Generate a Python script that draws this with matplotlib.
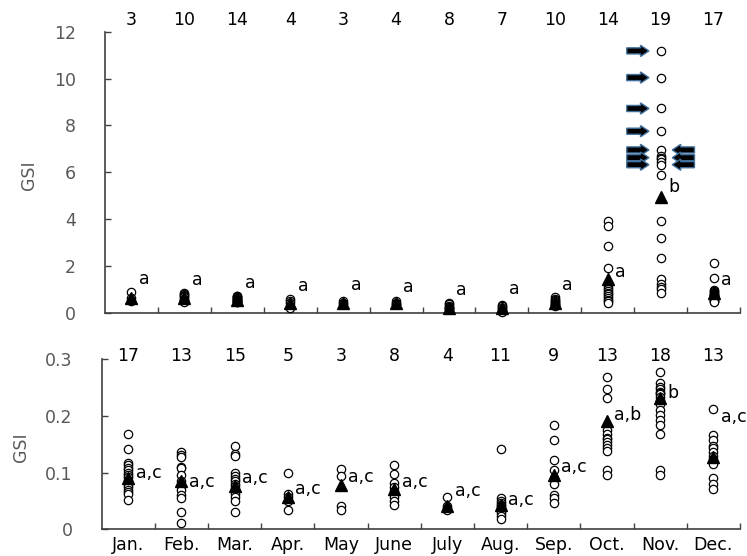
#!/usr/bin/env python3

from typing import List

import matplotlib
matplotlib.use('Agg')
import matplotlib.pyplot as plt
from matplotlib.patches import FancyArrow


MONTHS = ['Jan.', 'Feb.', 'Mar.', 'Apr.', 'May', 'June',
          'July', 'Aug.', 'Sep.', 'Oct.', 'Nov.', 'Dec.']

# upper panel: GSI of each fish, by month
top_counts = [3, 10, 14, 4, 3, 4, 8, 7, 10, 14, 19, 17]
top_values = [
    [0.87, 0.62, 0.52],
    [0.83, 0.8, 0.75, 0.7, 0.65, 0.6, 0.55, 0.52, 0.48, 0.46],
    [0.73, 0.7, 0.68, 0.65, 0.62, 0.6, 0.58, 0.56, 0.54, 0.52, 0.5, 0.48, 0.47, 0.46],
    [0.58, 0.5, 0.4, 0.22],
    [0.5, 0.42, 0.36],
    [0.48, 0.42, 0.38, 0.36],
    [0.43, 0.38, 0.3, 0.25, 0.2, 0.18, 0.15, 0.14],
    [0.34, 0.28, 0.22, 0.18, 0.12, 0.06, 0.01],
    [0.66, 0.6, 0.55, 0.5, 0.46, 0.42, 0.38, 0.35, 0.32, 0.29],
    [3.92, 3.7, 2.86, 1.92, 1.1, 1.0, 0.92, 0.85, 0.78, 0.7, 0.63, 0.55, 0.48, 0.4],
    [11.18, 10.04, 8.72, 7.75, 6.95, 6.7, 6.62, 6.55, 6.45, 6.32, 5.87,
     3.93, 3.2, 2.35, 1.43, 1.23, 1.1, 1.01, 0.83],
    [2.14, 1.5, 0.97, 0.92, 0.88, 0.84, 0.8, 0.77, 0.74, 0.7, 0.66, 0.62,
     0.58, 0.55, 0.52, 0.49, 0.47],
]
top_means = [0.62, 0.63, 0.55, 0.43, 0.42, 0.4, 0.22, 0.2, 0.42, 1.45, 4.96, 0.83]
top_letters = ['a'] * 10 + ['b', 'a']
top_letter_y = [1.43, 1.4, 1.28, 1.14, 1.18, 1.11, 0.97, 1.0, 1.18, 1.75, 5.36, 1.4]

# marked fish in November
arrows_right = [11.18, 10.04, 8.72, 7.75, 6.95, 6.62, 6.32]
arrows_left = [6.95, 6.62, 6.32]

# lower panel
low_counts = [17, 13, 15, 5, 3, 8, 4, 11, 9, 13, 18, 13]
low_values = [
    [0.169, 0.141, 0.117, 0.113, 0.109, 0.105, 0.1, 0.096, 0.092, 0.087,
     0.083, 0.079, 0.075, 0.07, 0.066, 0.062, 0.052],
    [0.137, 0.132, 0.127, 0.11, 0.108, 0.096, 0.085, 0.077, 0.07, 0.06,
     0.055, 0.031, 0.011],
    [0.148, 0.133, 0.129, 0.1, 0.094, 0.089, 0.085, 0.08, 0.076, 0.072,
     0.067, 0.062, 0.057, 0.05, 0.031],
    [0.1, 0.062, 0.058, 0.05, 0.034],
    [0.107, 0.095, 0.042, 0.034],
    [0.114, 0.098, 0.082, 0.075, 0.068, 0.057, 0.05, 0.043],
    [0.058, 0.042, 0.038, 0.034],
    [0.142, 0.055, 0.05, 0.047, 0.044, 0.041, 0.037, 0.033, 0.029, 0.024, 0.019],
    [0.184, 0.157, 0.122, 0.104, 0.09, 0.081, 0.06, 0.055, 0.046],
    [0.269, 0.248, 0.232, 0.175, 0.168, 0.161, 0.16, 0.155, 0.149, 0.143,
     0.138, 0.105, 0.096],
    [0.278, 0.258, 0.252, 0.247, 0.243, 0.24, 0.238, 0.234, 0.228, 0.226,
     0.222, 0.21, 0.202, 0.193, 0.184, 0.168, 0.105, 0.096],
    [0.212, 0.166, 0.157, 0.147, 0.143, 0.136, 0.13, 0.124, 0.12, 0.115,
     0.09, 0.081, 0.072],
]
low_means = [0.09, 0.085, 0.077, 0.058, 0.078, 0.072, 0.041, 0.043, 0.096,
             0.191, 0.231, 0.128]
low_letters = ['a,c'] * 9 + ['a,b', 'b', 'a,c']
low_letter_y = [0.099, 0.084, 0.09, 0.071, 0.093, 0.084, 0.067, 0.052, 0.11,
                0.202, 0.24, 0.199]


GREY = '#595959'
AXIS = '#404040'
FS = 12.5


def style_axes(ax, ymax: float, yticks: List[float], ylabels: List[str],
               label_pos, show_months: bool):
    n = len(MONTHS)
    ax.set_xlim(0, n)
    ax.set_ylim(0, ymax)

    for side in ('top', 'right'):
        ax.spines[side].set_visible(False)
    for side in ('left', 'bottom'):
        ax.spines[side].set_color(AXIS)
        ax.spines[side].set_linewidth(1.2)

    ax.set_yticks(yticks)
    ax.set_yticklabels(ylabels)
    ax.tick_params(axis='y', direction='in', length=4, width=1, color=AXIS,
                   pad=21, labelsize=FS, labelcolor=GREY)

    ax.set_xticks(range(1, n + 1))
    ax.set_xticklabels([])
    ax.tick_params(axis='x', which='major', direction='in', length=4,
                   width=1, color=AXIS)

    ax.set_xticks([i + 0.5 for i in range(n)], minor=True)
    ax.set_xticklabels(MONTHS if show_months else [''] * n, minor=True)
    ax.tick_params(axis='x', which='minor', length=0, pad=5,
                   labelsize=FS, labelcolor='black')

    ax.set_ylabel('GSI', color=GREY, fontsize=FS)
    ax.yaxis.set_label_coords(*label_pos)


def draw_panel(ax, values, means, counts, letters, letter_y, count_y, dx):
    for i, vals in enumerate(values):
        x = i + 0.5
        ax.plot([x] * len(vals), vals, 'o', ms=6, mfc='white', mec='black',
                mew=0.9, clip_on=False, zorder=3)
        ax.plot(x, means[i], '^', ms=8.5, color='black', clip_on=False,
                zorder=4)
        ax.text(x + dx, letter_y[i], letters[i], fontsize=FS,
                ha='left', va='center')
        ax.text(x, count_y, str(counts[i]), fontsize=FS,
                ha='center', va='center', clip_on=False)


def draw_arrows(ax, month: int):
    x = month + 0.5
    for y in arrows_right:
        ax.add_patch(FancyArrow(
            x - 0.64, y, 0.42, 0, width=0.26, head_width=0.48,
            head_length=0.16, length_includes_head=True,
            fc='black', ec='#41719c', lw=1, zorder=5))
    for y in arrows_left:
        ax.add_patch(FancyArrow(
            x + 0.64, y, -0.42, 0, width=0.26, head_width=0.48,
            head_length=0.16, length_includes_head=True,
            fc='black', ec='#41719c', lw=1, zorder=5))


if __name__ == '__main__':
    fig = plt.figure(figsize=(7.47, 5.56), dpi=100, facecolor='w')

    top = fig.add_axes([0.1406, 0.4376, 0.850, 0.5054])
    style_axes(top, 12, [0, 2, 4, 6, 8, 10, 12],
               ['0', '2', '4', '6', '8', '10', '12'], (-0.106, 0.49), False)
    draw_panel(top, top_values, top_means, top_counts,
               top_letters, top_letter_y, 12.48, 0.14)
    draw_arrows(top, MONTHS.index('Nov.'))

    low = fig.add_axes([0.1361, 0.0477, 0.8545, 0.3061])
    style_axes(low, 0.3, [0, 0.1, 0.2, 0.3],
               ['0', '0.1', '0.2', '0.3'], (-0.112, 0.486), True)
    draw_panel(low, low_values, low_means, low_counts,
               low_letters, low_letter_y, 0.305, 0.14)

    fig.savefig('out.png', dpi=100)
